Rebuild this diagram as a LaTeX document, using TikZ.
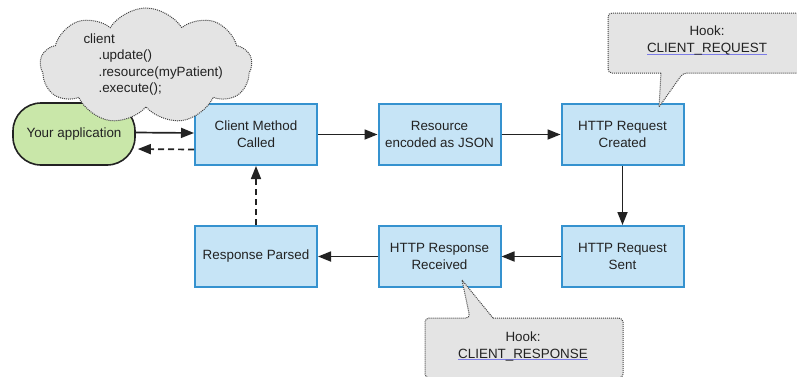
\documentclass[tikz,border=0pt]{standalone}
\usepackage{fontspec}
\setmainfont{Liberation Sans}
\usetikzlibrary{arrows.meta,positioning,shapes.symbols,calc}
\definecolor{ink}{HTML}{222222}
\definecolor{stepfill}{HTML}{C6E4F6}
\definecolor{stepline}{HTML}{3592CF}
\definecolor{appfill}{HTML}{C9E7A9}
\definecolor{notefill}{HTML}{E4E4E4}
\definecolor{noteline}{HTML}{444444}
\definecolor{linkline}{HTML}{7C7CE6}
\newcommand{\hooklink}[1]{\setbox0\hbox{#1}\rlap{\color{linkline}\rule[-2.2pt]{\wd0}{0.8pt}}\box0}
\tikzset{
  base/.style={font=\fontsize{13.4}{17}\selectfont, text=ink, align=center},
  stepbox/.style={base, draw=stepline, fill=stepfill, line width=2pt,
                  minimum width=122, minimum height=61, inner sep=2pt},
  appbox/.style={base, draw=ink, fill=appfill, line width=1.6pt,
                 rounded corners=28pt, minimum width=122, minimum height=62},
  note/.style={draw=noteline, fill=notefill, densely dotted, line width=1pt},
  ar/.style={-{Triangle[length=13pt,width=10pt]}, line width=1.7pt, draw=ink},
  ardash/.style={ar, dash pattern=on 6pt off 4pt}
}

\begin{document}
\begin{tikzpicture}[x=1pt,y=-1pt]
  \useasboundingbox (0,0) rectangle (797,376);
  \clip (0,0) rectangle (797,376);

  \node[appbox] (app) at (74,134) {Your application};
  \node[stepbox] (called) at (256,134.5) {Client Method\\Called};
  \node[stepbox] (encoded) at (439.5,134.5) {Resource\\encoded as JSON};
  \node[stepbox] (created) at (622.5,134.5) {HTTP Request\\Created};
  \node[stepbox] (sent) at (622.5,256.5) {HTTP Request\\Sent};
  \node[stepbox] (received) at (439.5,256.5) {HTTP Response\\Received};
  \node[stepbox] (parsed) at (256,256.5) {Response Parsed};

  \draw[ar] ([yshift=1.5pt]app.east) -- ([yshift=1.5pt]called.west);
  \draw[ardash, shorten >=2pt] ([yshift=-15pt]called.west) -- ([yshift=-15pt]app.east);
  \draw[ar] (called) -- (encoded);
  \draw[ar] (encoded) -- (created);
  \draw[ar] (created) -- (sent);
  \draw[ar] (sent) -- (received);
  \draw[ar] (received) -- (parsed);
  \draw[ardash] (parsed) -- (called);

  % code snippet cloud
  \node[cloud, note, cloud puffs=9, cloud puff arc=115, cloud ignores aspect,
        minimum width=212, minimum height=116] (cloud) at (146,66) {};
  \node[base, align=left, anchor=west, font=\fontsize{13.4}{16.4}\selectfont] (code) at (80,64.5)
     {client\\\hspace*{15pt}.update()\\\hspace*{15pt}.resource(myPatient)\\\hspace*{15pt}.execute();};

  % hook callouts
  \coordinate (hooka) at (707,43);
  \draw[note] ($(hooka)+(-46,30)$) [rounded corners=4pt]
     -- ($(hooka)+(-99,30)$) -- ($(hooka)+(-99,-30)$) -- ($(hooka)+(99,-30)$)
     -- ($(hooka)+(99,30)$) -- ($(hooka)+(-24,30)$) [sharp corners]
     -- ($(created.north)+(36.5,4)$) -- cycle;
  \node[base] (hookreq) at ($(hooka)+(0,-2.5)$) {Hook:\\\hooklink{CLIENT\_REQUEST}};

  \coordinate (hookb) at (524,348);
  \draw[note] ($(hookb)+(-31,-30)$) [rounded corners=4pt]
     -- ($(hookb)+(99,-30)$) -- ($(hookb)+(99,30)$) -- ($(hookb)+(-99,30)$)
     -- ($(hookb)+(-99,-30)$) -- ($(hookb)+(-54,-30)$) [sharp corners]
     -- ($(received.south)+(22.5,-8)$) -- cycle;
  \node[base] (hookresp) at ($(hookb)+(-1,-2)$) {Hook:\\\hooklink{CLIENT\_RESPONSE}};
\end{tikzpicture}
\end{document}
